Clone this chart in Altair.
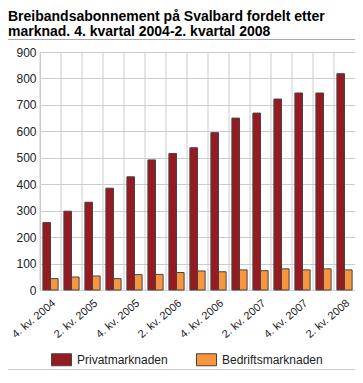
import altair as alt
import pandas as pd

quarters = [
    "4. kv. 2004", "1. kv. 2005", "2. kv. 2005", "3. kv. 2005", "4. kv. 2005",
    "1. kv. 2006", "2. kv. 2006", "3. kv. 2006", "4. kv. 2006", "1. kv. 2007",
    "2. kv. 2007", "3. kv. 2007", "4. kv. 2007", "1. kv. 2008", "2. kv. 2008",
]
privat = [255, 298, 332, 385, 428, 492, 516, 538, 595, 650, 669, 722, 745, 745, 818]
bedrift = [43, 49, 53, 43, 58, 59, 66, 72, 69, 76, 73, 80, 76, 80, 76]
series = ["Privatmarknaden", "Bedriftsmarknaden"]
colors = ["#951b22", "#f7963f"]
shown_labels = quarters[::2]
y_ticks = list(range(0, 1000, 100))
title_lines = [
    "Breibandsabonnement på Svalbard fordelt etter",
    "marknad. 4. kvartal 2004-2. kvartal 2008",
]

rows = []
for q, p, b in zip(quarters, privat, bedrift):
    rows.append({"kvartal": q, "marked": series[0], "abonnement": p})
    rows.append({"kvartal": q, "marked": series[1], "abonnement": b})
df = pd.DataFrame(rows)
grid_df = pd.DataFrame({"kvartal": quarters})
line_df = pd.DataFrame({"a": [0]})

LEFT = 32
W, H = 315, 238
FONT = "Liberation Sans"

x_axis = alt.Axis(
    values=shown_labels, labelAngle=-40, labelAlign="right", labelBaseline="top",
    grid=False, ticks=False, domain=False,
    labelFontSize=11, labelPadding=7, labelColor="#222222", labelFont=FONT,
)
x_scale = alt.Scale(domain=quarters, paddingInner=0, paddingOuter=0)

vgrid = alt.Chart(grid_df).mark_rule(color="#cccccc", strokeWidth=1).encode(
    x=alt.X("kvartal:N", sort=quarters, scale=x_scale, title=None, axis=x_axis, bandPosition=0),
    y=alt.value(0),
    y2=alt.value(H),
)

bars = alt.Chart(df).mark_bar(stroke="#4d4040", strokeWidth=1).encode(
    x=alt.X("kvartal:N", sort=quarters, scale=x_scale, title=None, axis=x_axis),
    xOffset=alt.XOffset(
        "marked:N", sort=series,
        scale=alt.Scale(domain=series, paddingInner=0, paddingOuter=0.38),
    ),
    y=alt.Y(
        "abonnement:Q", scale=alt.Scale(domain=[0, 900], nice=False), title=None,
        axis=alt.Axis(
            values=y_ticks, ticks=False, domain=False, grid=True, gridColor="#cccccc",
            labelFontSize=12, labelPadding=4, labelColor="#222222", labelFont=FONT,
        ),
    ),
    color=alt.Color(
        "marked:N", sort=series, scale=alt.Scale(domain=series, range=colors),
        legend=alt.Legend(
            title=None, orient="none", legendX=11, legendY=297, direction="horizontal",
            padding=0, symbolType="M-1,-0.6H1V0.6H-1Z", symbolSize=400,
            symbolStrokeColor="#4d4040", symbolStrokeWidth=1,
            labelFontSize=12, labelFont=FONT, labelColor="#222222",
            labelOffset=5, columnPadding=26,
        ),
    ),
)

top_line = alt.Chart(line_df).mark_rule(color="#aaaaaa", strokeWidth=1).encode(
    x=alt.value(-LEFT), x2=alt.value(W), y=alt.value(-12.5)
)
bottom_line = alt.Chart(line_df).mark_rule(color="#cccccc", strokeWidth=1).encode(
    x=alt.value(-LEFT), x2=alt.value(W), y=alt.value(317.5)
)

chart = alt.layer(vgrid, bars, top_line, bottom_line).properties(
    width=W,
    height=H,
    autosize=alt.AutoSizeParams(type="none"),
    padding={"left": LEFT, "top": 44, "right": 0, "bottom": 80},
    title=alt.TitleParams(
        text=title_lines, anchor="start", frame="group", dx=-LEFT, offset=0,
        fontSize=14, fontWeight="bold", font=FONT, lineHeight=15, color="#000000",
    ),
).configure_view(stroke="#c4c4c4", strokeWidth=1)

chart.save("out.html", embed_options={"renderer": "svg", "actions": False})
